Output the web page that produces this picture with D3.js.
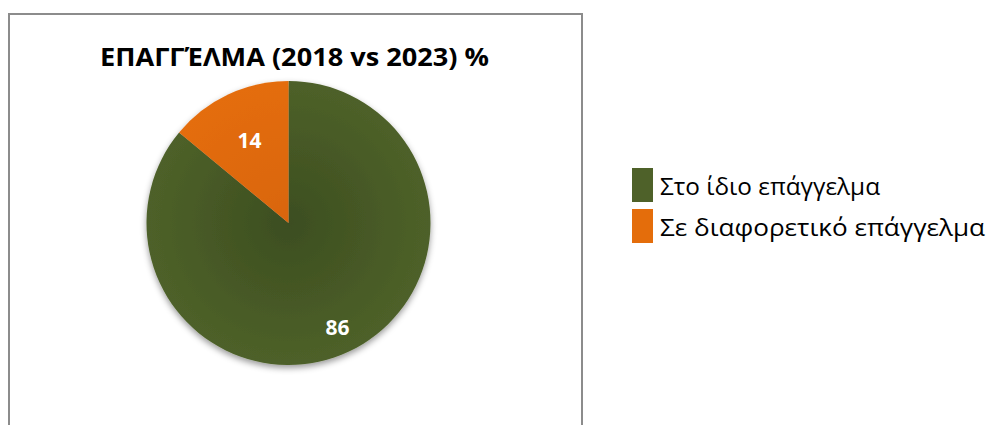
<!DOCTYPE html>
<html>
<head>
<meta charset="utf-8">
<script src="https://cdn.jsdelivr.net/npm/d3@7"></script>
<style>
html, body { margin: 0; padding: 0; background: #fff; }
svg { display: block; }
text { font-family: "Open Sans", "Noto Sans", sans-serif; }
</style>
</head>
<body>
<script>
"use strict";
const title = "ΕΠΑΓΓΈΛΜΑ (2018 vs 2023) %";
const categories = ["Στο ίδιο επάγγελμα", "Σε διαφορετικό επάγγελμα"];
const values = [86, 14];

const palette = {"inner": ["#3c4e20", "#d9650a"], "outer": ["#4e6129", "#e46d0b"]};
const size = {"width": 986, "height": 425};
const frame = {"x": 9, "y": 14, "width": 573, "height": 480};
const pieCenter = {"x": 288.5, "y": 223};
const radius = 142;

const svg = d3.select("body").append("svg").attr("width", size.width).attr("height", size.height);
const defs = svg.append("defs");

// soft shadow under the pie
const shadow = defs.append("filter").attr("id", "shadow").attr("x", "-20%").attr("y", "-20%").attr("width", "140%").attr("height", "140%");
shadow.append("feDropShadow").attr("dx", 0).attr("dy", 3).attr("stdDeviation", 3).attr("flood-color", "#000").attr("flood-opacity", 0.4);

values.forEach((v, i) => {
	const g = defs.append("radialGradient").attr("id", "grad" + i)
		.attr("gradientUnits", "userSpaceOnUse")
		.attr("cx", 0).attr("cy", 0).attr("r", radius);
	g.append("stop").attr("offset", "0%").attr("stop-color", palette.inner[i]);
	g.append("stop").attr("offset", "100%").attr("stop-color", palette.outer[i]);
});

svg.append("rect")
	.attr("x", frame.x).attr("y", frame.y)
	.attr("width", frame.width).attr("height", frame.height)
	.attr("fill", "#fff").attr("stroke", "#8c8c8c").attr("stroke-width", 2);

// squeeze a text to a target width (the original font is narrower)
function fit(sel, target) {
	sel.attr("textLength", target).attr("lengthAdjust", "spacingAndGlyphs");
}

const t = svg.append("text")
	.attr("x", frame.x + frame.width / 2 - 1).attr("y", 66)
	.attr("text-anchor", "middle")
	.attr("font-size", 25).attr("font-weight", "bold").attr("fill", "#000")
	.text(title);
fit(t, 389);

const pie = d3.pie().sort(null).value(d => d);
const arcs = pie(values);
const arc = d3.arc().innerRadius(0).outerRadius(radius);
const labelFactor = [0.81, 0.645];

const g = svg.append("g").attr("transform", "translate(" + pieCenter.x + "," + pieCenter.y + ")");
const slices = g.append("g").attr("filter", "url(#shadow)");
slices.selectAll("path")
	.data(arcs)
	.enter()
	.append("path")
	.attr("d", arc)
	.attr("fill", (d, i) => "url(#grad" + i + ")");

g.selectAll("text.lbl")
	.data(arcs)
	.enter()
	.append("text")
	.attr("class", "lbl")
	.attr("transform", (d, i) => {
		const r = radius * labelFactor[i];
		return "translate(" + d3.arc().innerRadius(r).outerRadius(r).centroid(d) + ")";
	})
	.attr("text-anchor", "middle")
	.attr("dy", "0.36em")
	.attr("font-size", 22).attr("font-weight", "bold").attr("fill", "#fff")
	.text(d => d.data)
	.each(function() { fit(d3.select(this), 24); });

// legend
const legend = svg.append("g").attr("transform", "translate(632, 0)");
const rows = legend.selectAll("g")
	.data(categories)
	.enter()
	.append("g")
	.attr("transform", (d, i) => "translate(0," + (195 + i * 41) + ")");
rows.append("rect")
	.attr("x", 0).attr("y", -27)
	.attr("width", 21).attr("height", 34)
	.attr("fill", (d, i) => palette.outer[i]);
rows.append("text")
	.attr("x", 28).attr("y", 0)
	.attr("font-size", 23).attr("fill", "#000")
	.text(d => d);
fit(rows.filter((d, i) => i === 0).select("text"), 220);
fit(rows.filter((d, i) => i === 1).select("text"), 325);
</script>
</body>
</html>
